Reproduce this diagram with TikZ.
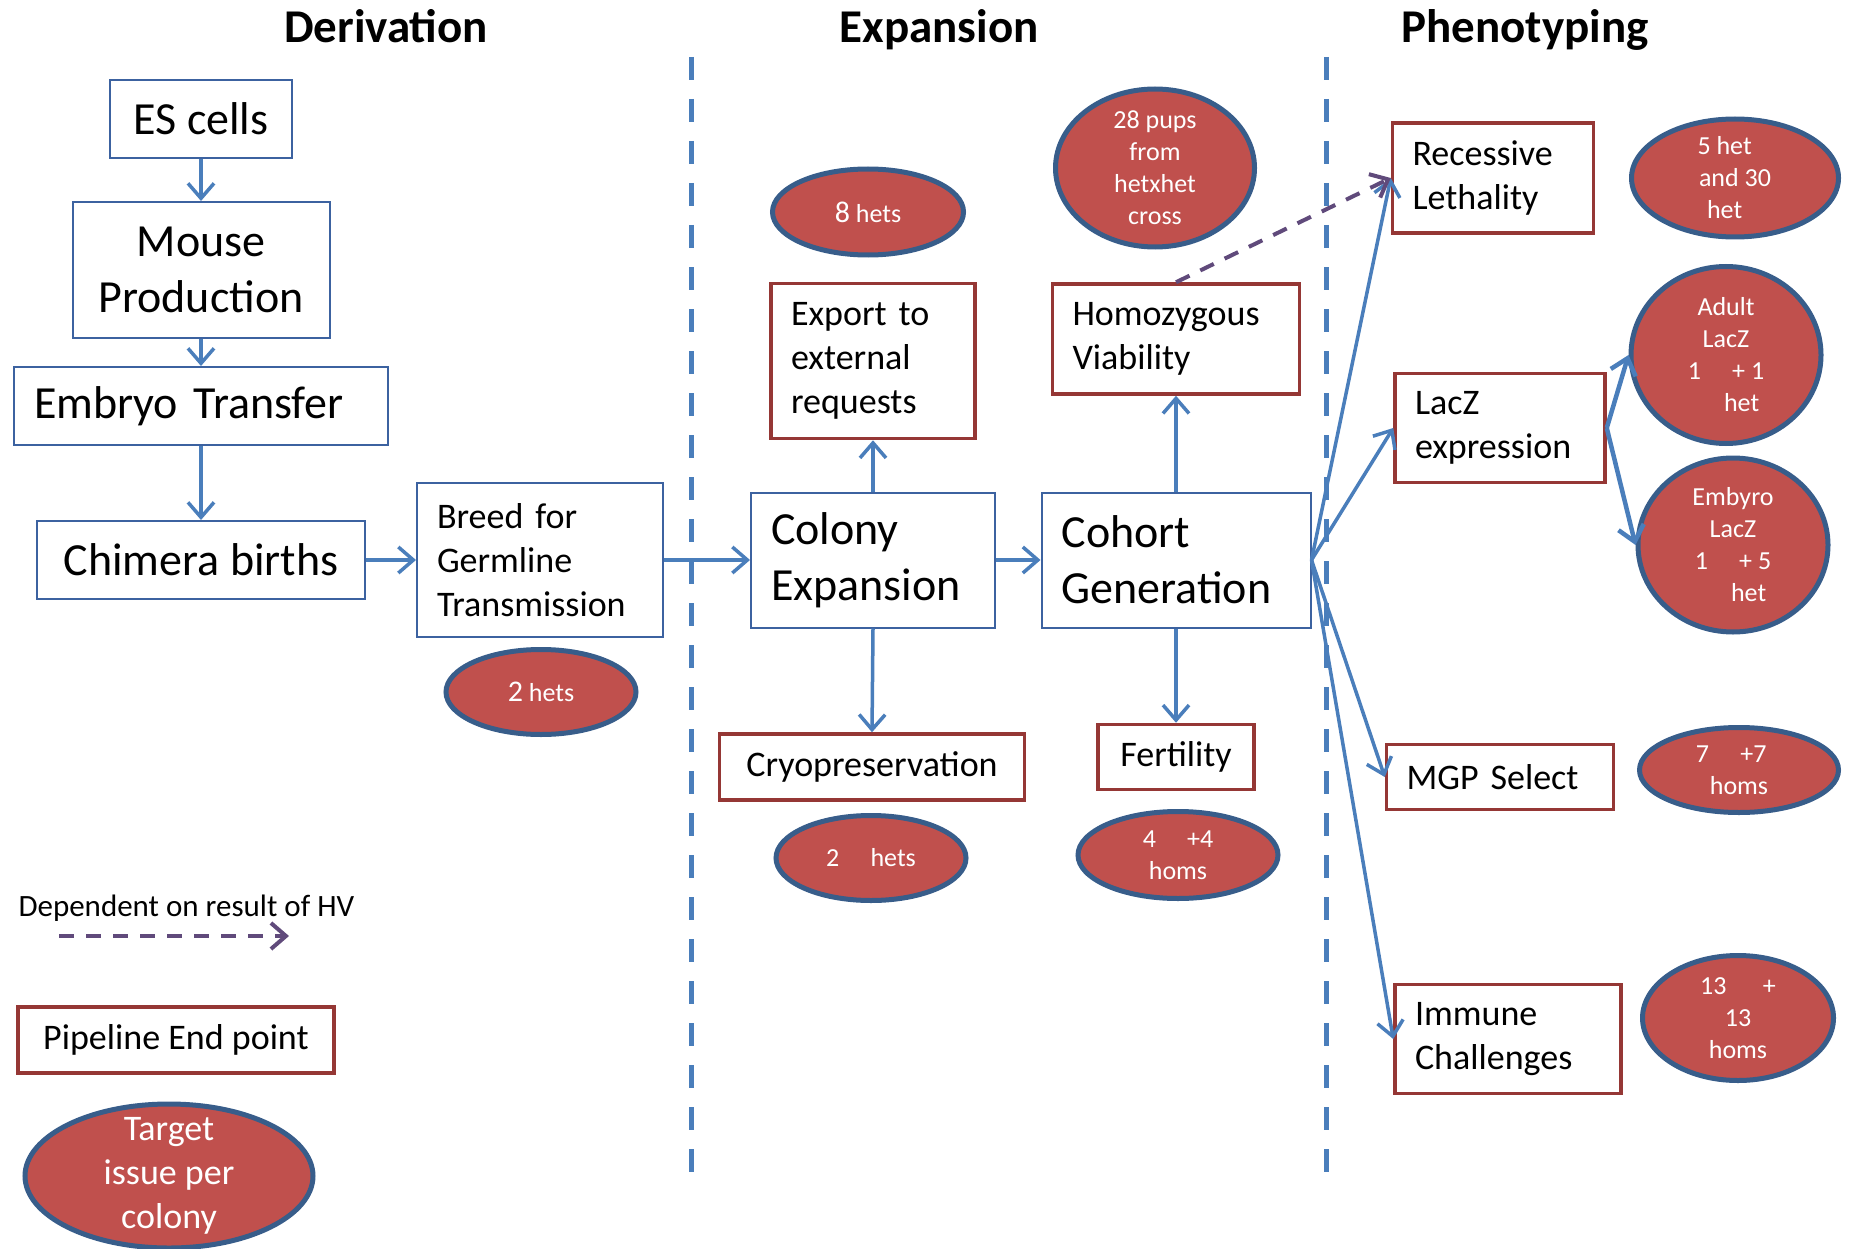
\documentclass[tikz,border=0pt]{standalone}
\usepackage{fontspec}
\setmainfont{Carlito}
\usetikzlibrary{arrows.meta,shapes.geometric,positioning}
\definecolor{mgblue}{RGB}{74,126,187}
\definecolor{mgnavy}{RGB}{56,93,138}
\definecolor{mgboxline}{RGB}{60,98,160}
\definecolor{mgred}{RGB}{192,80,77}
\definecolor{mgdarkred}{RGB}{149,55,53}
\definecolor{mgpurple}{RGB}{96,74,123}
\newcommand{\titlefont}{\fontsize{47}{57}\selectfont\bfseries}
\newcommand{\boxfontlarge}{\fontsize{46}{56}\selectfont}
\newcommand{\boxfont}{\fontsize{36}{44}\selectfont}
\newcommand{\ovalfont}{\fontsize{26}{32}\selectfont}
\newcommand{\notefont}{\fontsize{31}{38}\selectfont}
\tikzstyle{flowarrow} = [line width=3.5pt,-{Straight Barb[length=15pt,width=26pt]},color=mgblue]
\tikzstyle{hvarrow} = [line width=4pt,dash pattern=on 15pt off 12pt,-{Straight Barb[length=15pt,width=26pt]},color=mgpurple]
\tikzstyle{sepline} = [line width=5pt,dash pattern=on 23pt off 19pt,color=mgblue]
\tikzset{
  stagebox/.style={draw=mgboxline, line width=2pt, fill=white, inner sep=0pt, align=center},
  endbox/.style={draw=mgdarkred, line width=3.5pt, fill=white, inner sep=0pt, align=center},
  leftbox/.style={align=left, inner xsep=20pt},
  target/.style={ellipse, draw=mgnavy, line width=5pt, fill=mgred, inner sep=0pt},
  targettext/.style={text=white, align=center, font=\ovalfont},
}

\begin{document}
\begin{tikzpicture}[x=1pt, y=-1pt]
\useasboundingbox (0,0) rectangle (1851,1249);
% stage headings and separators
\node[font=\titlefont, anchor=base] (derivtitle) at (386,43) {Derivation};
\node[font=\titlefont, anchor=base] (expantitle) at (939,43) {Expansion};
\node[font=\titlefont, anchor=base] (phenotitle) at (1525,43) {Phenotyping};
\draw[sepline] (691,57) -- (691,1175);
\draw[sepline] (1326,57) -- (1326,1180);

% Derivation
\node[stagebox, minimum width=182pt, minimum height=78pt, font=\boxfontlarge] (escells) at (201,119) {ES cells};
\node[stagebox, minimum width=257pt, minimum height=136pt, font=\boxfontlarge] (mouseprod) at (201,270) {Mouse\\Production};
\node[stagebox, leftbox, text width=334pt, minimum height=78pt, font=\boxfontlarge] (embryo) at (201,406) {Embryo Transfer};
\node[stagebox, minimum width=328pt, minimum height=78pt, font=\boxfontlarge] (chimera) at (201,560) {Chimera births};
\node[stagebox, leftbox, text width=206pt, minimum height=154pt, font=\boxfont] (breed) at (540,560) {Breed for\\Germline\\Transmission};
\node[target, minimum width=190pt, minimum height=85pt, label={[targettext]center:{{\fontsize{30}{32}\selectfont 2} hets}}] (breedhets) at (541,692) {};

% Expansion
\node[stagebox, leftbox, text width=204pt, minimum height=135pt, font=\boxfontlarge] (colony) at (873,560) {Colony\\Expansion};
\node[stagebox, leftbox, text width=229pt, minimum height=135pt, font=\boxfontlarge] (cohort) at (1176,560) {Cohort\\Generation};
\node[endbox, leftbox, text width=164pt, minimum height=155pt, font=\boxfont] (export) at (873,361) {Export to\\external\\requests};
\node[endbox, leftbox, text width=207pt, minimum height=110pt, font=\boxfont] (hv) at (1176,339) {Homozygous\\Viability};
\node[endbox, minimum width=305pt, minimum height=66pt, font=\boxfont] (cryo) at (872,767) {Cryopreservation};
\node[endbox, minimum width=156pt, minimum height=65pt, font=\boxfont] (fertility) at (1176,757) {Fertility};
\node[target, minimum width=191pt, minimum height=86pt, label={[targettext]center:{{\fontsize{30}{32}\selectfont 8} hets}}] (exphets) at (868,212) {};
\node[target, minimum width=199pt, minimum height=158pt, label={[targettext]center:{28 pups\\from\\hetxhet\\cross}}] (pups) at (1155,168) {};
\node[target, minimum width=190pt, minimum height=85pt, label={[targettext]center:{2\hspace{1.2em}hets}}] (cryohets) at (871,858) {};
\node[target, minimum width=200pt, minimum height=87pt, label={[targettext]center:{4\hspace{1.2em}+4\\homs}}] (fertilhoms) at (1178,855) {};

% Phenotyping
\node[endbox, leftbox, text width=161pt, minimum height=110pt, font=\boxfont] (lethal) at (1493,178) {Recessive\\Lethality};
\node[endbox, leftbox, text width=170pt, minimum height=109pt, font=\boxfont] (lacz) at (1500,428) {LacZ\\expression};
\node[endbox, leftbox, text width=187pt, minimum height=65pt, font=\boxfont] (mgp) at (1500,777) {MGP Select};
\node[endbox, leftbox, text width=186pt, minimum height=109pt, font=\boxfont] (immune) at (1508,1039) {Immune\\Challenges};
\node[target, minimum width=207pt, minimum height=118pt, label={[targettext]center:{5 het\hspace*{0.8em}\\and 30\\het\hspace*{0.8em}}}] (lethalhets) at (1735,178) {};
\node[target, minimum width=190pt, minimum height=177pt, label={[targettext]center:{Adult\\LacZ\\1\hspace{1.2em}+ 1\\\hspace*{1.2em}het}}] (adult) at (1726,355) {};
\node[target, minimum width=190pt, minimum height=174pt, label={[targettext]center:{Embyro\\LacZ\\1\hspace{1.2em}+ 5\\\hspace*{1.2em}het}}] (embryolacz) at (1733,545) {};
\node[target, minimum width=199pt, minimum height=85pt, label={[targettext]center:{7\hspace{1.2em}+7\hspace*{0.6em}\\homs}}] (mgphoms) at (1739,770) {};
\node[target, minimum width=191pt, minimum height=125pt, label={[targettext]center:{13\hspace{1.4em}+\\13\hspace*{0.9em}\\homs}}] (immhoms) at (1738,1018) {};

% Legend
\node[anchor=west, font=\notefont] (hvnote) at (15,908) {Dependent on result of HV};
\coordinate (legstart) at (59,936);
\coordinate (legtip) at (289,936);
\node[endbox, minimum width=316pt, minimum height=66pt, font=\boxfont] (pipeline) at (176,1040) {Pipeline End point};
\node[target, minimum width=288pt, minimum height=144pt, label={[targettext, font=\boxfont]center:{Target\\issue per\\colony}}] (targetkey) at (169,1176) {};

% Connectors
\draw[flowarrow] (escells.south) -- (mouseprod.north);
\draw[flowarrow] (mouseprod.south) -- (embryo.north);
\draw[flowarrow] (embryo.south) -- (chimera.north);
\draw[flowarrow] (chimera.east) -- (breed.west);
\draw[flowarrow] (breed.east) -- (colony.west);
\draw[flowarrow] (colony.east) -- (cohort.west);
\draw[flowarrow] (colony.north) -- (export.south);
\draw[flowarrow] (colony.south) -- (cryo.north);
\draw[flowarrow] (cohort.north) -- (hv.south);
\draw[flowarrow] (cohort.south) -- (fertility.north);
\draw[flowarrow] (cohort.east) -- (lethal.west);
\draw[flowarrow] (cohort.east) -- (lacz.west);
\draw[flowarrow] (cohort.east) -- (mgp.west);
\draw[flowarrow] (cohort.east) -- (immune.west);
\draw[flowarrow, line width=4.5pt] (lacz.east) -- (adult.west);
\draw[flowarrow, line width=4.5pt] (lacz.east) -- (embryolacz.west);
\draw[hvarrow] (hv.north) -- (lethal.west);
\draw[hvarrow] (legstart) -- (legtip);
\end{tikzpicture}
\end{document}
